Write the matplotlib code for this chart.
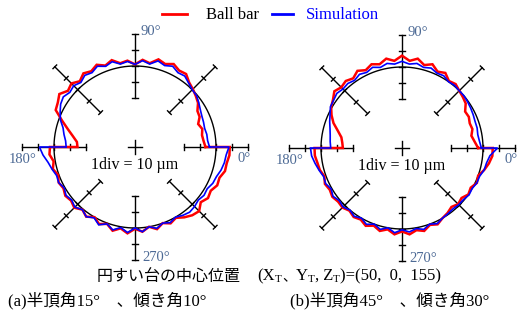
import numpy as np
import matplotlib
matplotlib.use("Agg")
import matplotlib.pyplot as plt

# ---------------- data (deviation in um vs angle in degrees) ----------------
ang = [0, 5, 10, 15, 20, 25, 30, 35, 40, 45, 50, 55, 60, 65, 70, 75, 80, 85, 90,
       95, 100, 105, 110, 115, 120, 125, 130, 135, 140, 145, 150, 155, 160, 165,
       170, 175, 180, 180, 185, 190, 195, 200, 205, 210, 215, 220, 225, 230, 235,
       240, 245, 250, 255, 260, 265, 270, 275, 280, 285, 290, 295, 300, 305, 310,
       315, 320, 325, 330, 335, 340, 345, 350, 355, 360]

a_ballbar = [-6.5, -7.5, -8, -7, -8.5, -6, -5.5, -2.5, -1, 0.5, 2, 5, 4.5, 6.5, 4.5,
             6, 2.5, 4, 1, 3.5, 2.5, 5.5, 3.5, 6, 4, 5.5, 3, 5.5, 4, 7, 5, 4, -2, -7,
             -11, -14, -14.5, 2.5, 3, 1, 2.5, 0.5, 2, 1, 2.5, 1.5, 3, 0.5, 2.5, 0,
             2.5, 0.5, 3.5, 1, 3.5, 0.5, 2.5, 0, 2.5, 0, 2, 0.5, 3, 5, 6, 3, 5, 4,
             6, 5.5, 7.5, 7.5, 8.5, 8.5]
a_sim = [-4, -5, -5, -5.5, -5, -4.5, -3.5, -2, -0.5, 0, 1.5, 3.5, 3, 5, 3.5, 5, 2,
         3.5, 1, 3, 2, 4.5, 3, 5, 3, 4, 2, 3.5, 2.5, 4, 3, 1, -1, -4, -5.5, -7,
         -7.5, 9, 7, 4.5, 3, 1.5, 2, 0.5, 2, 1, 2.5, 0.5, 2.5, 0.5, 3, 0.5, 3, 0.5,
         3, 0, 2.5, 0, 2, 0, 1.5, 0, 1.5, 2.5, 2, 1, 2, 1.5, 3, 3.5, 5, 6, 6.5, 8]

b_ballbar = [-3, -5, -6.5, -5, -5.5, -4.5, -5, -2, -1, 0, 1.5, 0.5, 3.5, 2, 5, 3, 6,
             4, 7, 4, 6, 3.5, 5, 3, 5, 2.5, 4, 3, 4.5, 2, 0.5, -2, -5, -9, -12, -13,
             -13.5, 4, 4, 3, 2.5, 1, 2.5, 1.5, 2.5, 1.5, 2, 0.5, 2, 1, 3, 1, 3, 1,
             3.5, 1.5, 3.5, 1.5, 3, 0.5, 2, 0, -1, -2.5, -1, -2, 0, -1, 1, 0, 2.5,
             4.5, 6, 6]
b_sim = [-1, -2, -2.5, -2, -2, -1.5, -1, -0.5, 0, 0, 0.5, 0, 1.5, 1, 2.5, 1.5, 3, 2,
         3.5, 2, 3, 1.5, 3, 1.5, 2.5, 1, 2, 1.5, 2.5, 1.5, 1, -1, -2.5, -4, -5, -5.5,
         -6, 6.5, 6, 4.5, 3, 1.5, 2, 0.5, 2, 0.5, 1.5, 0, 1.5, 0, 2, 0, 2, 0, 2.5,
         0.5, 2, 0.5, 2, 0, 1.5, 0, -0.5, -1, -0.5, -0.5, 0.5, 0, 1, 1, 2.5, 3, 4.5, 9]

axis_ticks = [30, 40, 50, 60, 70]      # tick radii (display um), circle at 50
ref_radius = 50
angle_labels = ["0°", "90°", "180°", "270°"]
legend_labels = ["Ball bar", "Simulation"]
caption_a = "(a)半頂角15°\u3000、傾き角10°"
caption_b = "(b)半頂角45°\u3000、傾き角30°"
center_text1 = "円すい台の中心位置"

# ---------------- figure ----------------
W, H = 518, 323
fig = plt.figure(figsize=(W / 100, H / 100), dpi=100)
S = 81 / 50.0  # px per display unit
SERIF = ["Liberation Serif", "Noto Sans CJK JP"]
JP = ["Noto Sans CJK JP"]
LBL_COLOR = "#4d6a95"


def px(x, y):
    return x / W, 1 - y / H


def make_axes(cx, cy, w=240, h=250):
    ax = fig.add_axes([(cx - w / 2) / W, 1 - (cy + h / 2) / H, w / W, h / H])
    ax.set_xlim(-w / 2 / S, w / 2 / S)
    ax.set_ylim(-h / 2 / S, h / 2 / S)
    ax.axis("off")
    return ax


def draw_plot(ax, ball, sim):
    th = np.linspace(0, 2 * np.pi, 400)
    ax.plot(ref_radius * np.cos(th), ref_radius * np.sin(th), color="black", lw=1.0, zorder=2)
    # radial scale bars
    for k in range(8):
        a = np.deg2rad(45 * k)
        c, s_ = np.cos(a), np.sin(a)
        r0, r1 = axis_ticks[0], axis_ticks[-1]
        ax.plot([r0 * c, r1 * c], [r0 * s_, r1 * s_], color="black", lw=1.0, zorder=1,
                clip_on=False)
        for r in axis_ticks:
            tl = 1.6
            ax.plot([r * c - tl * s_, r * c + tl * s_], [r * s_ + tl * c, r * s_ - tl * c],
                    color="black", lw=1.0, zorder=1, clip_on=False)
    # center cross
    ax.plot([-4.5, 4.5], [0, 0], color="black", lw=1.0)
    ax.plot([0, 0], [-4.5, 4.5], color="black", lw=1.0)
    t = np.deg2rad(np.array(ang, dtype=float))
    for dev, col, lw, z in [(ball, "#ff0000", 1.8, 3), (sim, "#0000ff", 1.2, 4)]:
        r = ref_radius + np.array(dev, dtype=float)
        x = r * np.cos(t)
        y = r * np.sin(t)
        x = np.append(x, x[0])
        y = np.append(y, y[0])
        ax.plot(x, y, color=col, lw=lw, zorder=z, solid_joinstyle="miter")
    ax.text(0, -11, "1div = 10 µm", ha="center", va="center", fontsize=11.5,
            family=SERIF)
    # angle labels
    ax.text(63, -7, angle_labels[0], ha="left", va="center", fontsize=10.5,
            color=LBL_COLOR, family=SERIF)
    ax.text(3.7, 71, angle_labels[1], ha="left", va="center", fontsize=10.5,
            color=LBL_COLOR, family=SERIF)
    ax.text(-78, -8, angle_labels[2], ha="left", va="center", fontsize=10.5,
            color=LBL_COLOR, family=SERIF)
    ax.text(4.5, -68.5, angle_labels[3], ha="left", va="center", fontsize=10.5,
            color=LBL_COLOR, family=SERIF)


axL = make_axes(135, 147)
draw_plot(axL, a_ballbar, a_sim)
axR = make_axes(402, 148)
draw_plot(axR, b_ballbar, b_sim)

# legend
fig.lines.append(plt.Line2D([162 / W, 187 / W], [1 - 14 / H] * 2, color="#ff0000", lw=2,
                            transform=fig.transFigure))
fig.text(*px(206, 15), legend_labels[0], ha="left", va="center", fontsize=12, family=SERIF)
fig.lines.append(plt.Line2D([272 / W, 293 / W], [1 - 14 / H] * 2, color="#0000ff", lw=2,
                            transform=fig.transFigure))
fig.text(*px(306, 15), legend_labels[1], ha="left", va="center", fontsize=12,
         family=SERIF, color="#0000ff")

# center-position caption, placed piece by piece
fig.canvas.draw()
renderer = fig.canvas.get_renderer()


def seq(x0, y, pieces):
    x = x0
    for txt, fam, size, dy in pieces:
        t = fig.text(*px(x, y + dy), txt, ha="left", va="center", fontsize=size, family=fam)
        bb = t.get_window_extent(renderer)
        x += bb.width


seq(97, 276, [
    (center_text1, JP, 11.5, 0),
    ("\u3000", JP, 12, 0),
    ("(X", SERIF, 12, 0), ("T", SERIF, 8, 4),
    ("、", JP, 10, 0),
    ("Y", SERIF, 12, 0), ("T", SERIF, 8, 4),
    (", Z", SERIF, 12, 0), ("T", SERIF, 8, 4),
    (")=(50,  0,  155)", SERIF, 12, 0),
])

fig.text(*px(8, 301), caption_a, ha="left", va="center", fontsize=12, family=SERIF)
fig.text(*px(290, 301), caption_b, ha="left", va="center", fontsize=12, family=SERIF)

fig.savefig("out.png", dpi=100)
